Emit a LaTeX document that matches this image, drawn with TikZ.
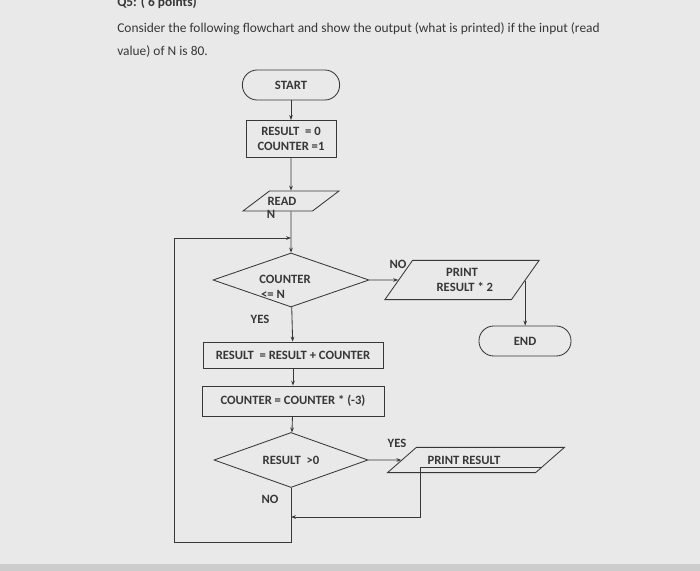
\documentclass[tikz,border=0pt]{standalone}
\usepackage{fontspec}
\setmainfont{Carlito}
\usetikzlibrary{arrows.meta,positioning,shapes.geometric,calc}
\definecolor{paper}{RGB}{233,233,233}
\definecolor{ink}{RGB}{55,55,55}
\begin{document}
\begin{tikzpicture}[x=0.025cm,y=-0.025cm,
  line/.style={draw=ink,line width=0.6pt},
  arr/.style={line,-{Stealth[length=3.5pt,width=2.6pt]}},
  txt/.style={font=\fontsize{9}{10.5}\selectfont\bfseries,text=ink},
  term/.style={line,txt,rectangle,rounded corners=0.37cm,minimum height=0.75cm},
  proc/.style={line,txt,rectangle,align=center,inner sep=0pt},
  dec/.style={line,txt,diamond,aspect=2.9,inner sep=0pt,align=center},
  io/.style={line,txt,trapezium,trapezium stretches=true,inner sep=0pt,align=center},
  lbl/.style={txt}]
  \path[use as bounding box,fill=paper] (0,0) rectangle (700,571);
  \clip (0,0) rectangle (700,571);
  \fill[gray!40] (0,564) rectangle (700,571);
  \node[anchor=base west,font=\fontsize{9.5}{11}\selectfont\bfseries,text=ink,inner sep=0pt] (qhead) at (117,7) {Q5: ( 6 points)};
  \node[anchor=west,font=\fontsize{9.55}{11}\selectfont,text=ink,inner sep=0pt] (qline1) at (117,29) {Consider the following flowchart and show the output (what is printed) if the input (read};
  \node[anchor=west,font=\fontsize{9.55}{11}\selectfont,text=ink,inner sep=0pt] (qline2) at (117,52) {value) of N is 80.};

  \node[term,minimum width=2.43cm] (start) at (291,85) {START};
  \node[proc,minimum width=2.25cm,minimum height=0.93cm] (init) at (291,139) {RESULT \ = 0\\COUNTER =1};
  \node[io,minimum width=2.4cm,minimum height=0.5cm,trapezium left angle=51,trapezium right angle=129] (read) at (291,201) {\hspace*{-4.5mm}READ};
  \node[lbl,inner sep=0pt] (readn) at (271,214) {N};
  \node[dec,minimum width=3.9cm,minimum height=1.35cm] (d1) at (291,280) {};
  \node[lbl,inner sep=0pt] (d1a) at (285,279) {COUNTER};
  \node[lbl,inner sep=0pt] (d1b) at (273,294) {<= N};
  \node[io,minimum width=3.88cm,minimum height=0.98cm,trapezium left angle=53,trapezium right angle=127] (p2) at (462,280) {PRINT\\\ \ RESULT * 2};
  \node[term,minimum width=2.3cm] (endn) at (525,341) {END};
  \node[proc,minimum width=4.5cm,minimum height=0.65cm] (b1) at (293,355) {RESULT \ = RESULT + COUNTER};
  \node[proc,minimum width=4.55cm,minimum height=0.75cm] (b2) at (293,401) {COUNTER = COUNTER * (-3)};
  \node[dec,minimum width=3.85cm,minimum height=1.375cm] (d2) at (291,460) {RESULT \ >0};
  \node[io,minimum width=4.43cm,minimum height=0.63cm,trapezium left angle=35.5,trapezium right angle=144.5] (p1) at (476,460) {\hspace*{-6mm}PRINT RESULT};

  \node[lbl] (no1) at (398,264) {NO};
  \node[lbl] (yes1) at (260,319) {YES};
  \node[lbl] (yes2) at (397,443) {YES};
  \node[lbl] (no2) at (270,499) {NO};

  \coordinate (lt) at (174,238);
  \coordinate (lb) at (174,542);
  \coordinate (pj) at (420,517);
  \coordinate (pe) at ($(p2.top right corner)!0.52!(p2.bottom right corner)$);
  \coordinate (pr) at ($(p1.bottom right corner)!0.2!(p1.top right corner)$);

  \draw[arr] (start) -- (init);
  \draw[arr] (init) -- (read);
  \draw[arr] (read) -- (d1);
  \draw[arr] (d1) -- (p2);
  \draw[arr] (pe) -- (pe |- endn.north);
  \draw[arr] (d1) -- (b1);
  \draw[arr] (b1) -- (b2);
  \draw[arr] (b2) -- (d2);
  \draw[arr] (d2) -- (p1);
  \draw[arr] (pr) -| (pj) -- (pj -| d2.south);
  \draw[arr] (d2.south) |- (lb) -- (lt) -- (lt -| d1.north);
\end{tikzpicture}
\end{document}
